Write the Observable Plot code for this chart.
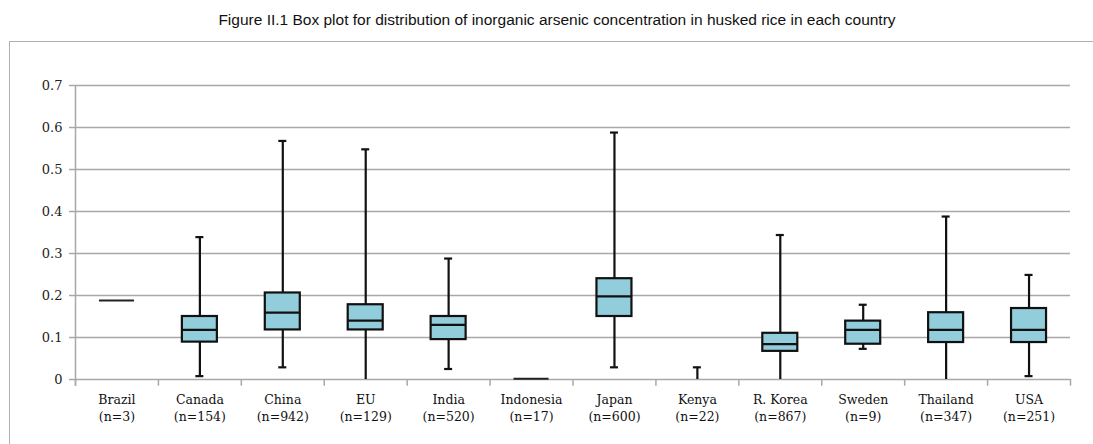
<!DOCTYPE html>
<html>
<head>
<meta charset="utf-8">
<script src="https://cdn.jsdelivr.net/npm/d3@7"></script>
<script src="https://cdn.jsdelivr.net/npm/@observablehq/plot@0.6"></script>
<style>
  html, body { margin: 0; padding: 0; background: #fff; overflow: hidden; }
  #title { position: absolute; left: 0; top: 11px; width: 1114px; text-align: center;
           font: 15.5px "Liberation Sans", Arial, sans-serif; color: #111; }
  #frame { position: absolute; left: 9px; top: 41px; width: 1200px; height: 600px;
           border: 1px solid #b0b0b0; box-sizing: border-box; }
  #chart { position: absolute; left: 0; top: 41px; }
</style>
</head>
<body>
<div id="title">Figure II.1 Box plot for distribution of inorganic arsenic concentration in husked rice in each country</div>
<div id="frame"></div>
<div id="chart"></div>
<script>
const countries = ["Brazil","Canada","China","EU","India","Indonesia","Japan","Kenya","R. Korea","Sweden","Thailand","USA"];
const nCounts   = [3, 154, 942, 129, 520, 17, 600, 22, 867, 9, 347, 251];
const minVals   = [0.188, 0.008, 0.029, 0,     0.025, 0.002, 0.029, 0,     0,     0.073, 0,     0.008];
const q1Vals    = [0.188, 0.089, 0.118, 0.118, 0.095, 0.002, 0.150, null,  0.067, 0.084, 0.088, 0.088];
const medVals   = [0.188, 0.118, 0.159, 0.140, 0.130, 0.002, 0.198, null,  0.084, 0.118, 0.118, 0.118];
const q3Vals    = [0.188, 0.150, 0.206, 0.178, 0.150, 0.002, 0.240, null,  0.110, 0.139, 0.159, 0.169];
const maxVals   = [0.188, 0.339, 0.568, 0.548, 0.288, 0.002, 0.588, 0.029, 0.344, 0.178, 0.388, 0.249];
const yTicks    = [0, 0.1, 0.2, 0.3, 0.4, 0.5, 0.6, 0.7];

const rows = countries.map((c, i) => ({
  country: c, n: nCounts[i], min: minVals[i], q1: q1Vals[i], median: medVals[i], q3: q3Vals[i], max: maxVals[i]
}));

const W = 1093, ML = 75, MR = 23;
const bw = (W - ML - MR) / countries.length;
const boxW = 35, capW = 8;
const boxInset = (bw - boxW) / 2, capInset = (bw - capW) / 2;
const labelOf = Object.fromEntries(rows.map(d => [d.country, `${d.country}\n(n=${d.n})`]));

const withBox = rows.filter(d => d.q1 != null);
const realBox = withBox.filter(d => d.q3 > d.q1);
const flat = withBox.filter(d => d.q3 === d.q1);
const whisk = rows.filter(d => d.max > d.min);
const caps = [];
whisk.forEach(d => { if (d.max > 0) caps.push({country: d.country, v: d.max}); if (d.min > 0.004) caps.push({country: d.country, v: d.min}); });

const chart = Plot.plot({
  width: W, height: 403,
  marginLeft: ML, marginRight: MR, marginTop: 44, marginBottom: 65,
  style: { fontFamily: "'DejaVu Serif', serif", fontSize: "12.5px", color: "#111", background: "transparent" },
  x: { type: "band", domain: countries, padding: 0, round: false, label: null },
  y: { domain: [0, 0.7], label: null, ticks: yTicks },
  marks: [
    Plot.ruleY(yTicks, { stroke: "#a8a8a8", strokeWidth: 1.5 }),
    Plot.ruleX([0], { x: () => countries[0], dx: -bw / 2, y1: -0.016, y2: 0.7, stroke: "#a8a8a8", strokeWidth: 1.5 }),
    Plot.ruleX(countries, { x: d => d, dx: -bw / 2, y1: -0.016, y2: 0, stroke: "#a8a8a8", strokeWidth: 1.5 }),
    Plot.ruleX([countries[countries.length - 1]], { x: d => d, dx: bw / 2, y1: -0.016, y2: 0, stroke: "#a8a8a8", strokeWidth: 1.5 }),
    Plot.axisY({ ticks: yTicks, tickSize: 6, tickPadding: 7, tickFormat: d => d === 0 ? "0" : d3.format(".1f")(d), stroke: "#a8a8a8", strokeWidth: 1.5, fill: "#222", fontSize: 13 }),
    Plot.axisX({ tickSize: 0, tickPadding: 12, tickFormat: d => labelOf[d], lineHeight: 1.36, fill: "#111", fontSize: 12.5 }),
    Plot.ruleX(whisk, { x: "country", y1: "min", y2: "max", stroke: "#111", strokeWidth: 2.2 }),
    Plot.tickY(caps, { x: "country", y: "v", insetLeft: capInset, insetRight: capInset, stroke: "#111", strokeWidth: 2.2 }),
    Plot.barY(realBox, { x: "country", y1: "q1", y2: "q3", insetLeft: boxInset, insetRight: boxInset, fill: "#92cddc", stroke: "#111", strokeWidth: 2.2 }),
    Plot.tickY(realBox, { x: "country", y: "median", insetLeft: boxInset, insetRight: boxInset, stroke: "#111", strokeWidth: 2.2 }),
    Plot.tickY(flat, { x: "country", y: "median", insetLeft: boxInset, insetRight: boxInset, stroke: "#222", strokeWidth: 2 })
  ]
});
document.getElementById("chart").appendChild(chart);
</script>
</body>
</html>
